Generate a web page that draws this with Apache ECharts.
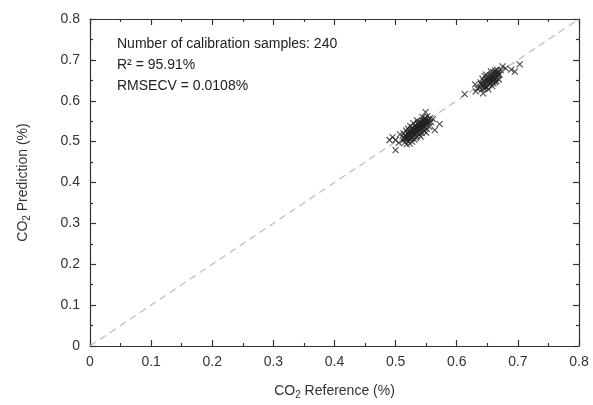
<!DOCTYPE html>
<html>
<head>
<meta charset="utf-8">
<script src="https://cdn.jsdelivr.net/npm/echarts@6/dist/echarts.min.js"></script>
<style>html,body{margin:0;padding:0;background:#fff}#c{width:593px;height:405px}</style>
</head>
<body>
<div id="c"></div>
<script>
// Reference (x) and predicted (y) CO2 values
const refValues = [
0.512,0.514,0.515,0.516,0.518,0.519,0.520,0.521,0.522,0.523,0.524,0.525,0.526,0.527,0.528,0.529,0.530,0.531,0.532,0.533,
0.534,0.535,0.536,0.537,0.538,0.539,0.540,0.541,0.542,0.543,0.544,0.545,0.546,0.547,0.548,0.549,0.550,0.551,0.552,0.553,
0.554,0.555,0.517,0.520,0.524,0.527,0.533,0.537,0.541,0.546,0.550,0.556,0.523,0.529,0.535,0.544,0.513,0.518,0.531,0.539,
0.547,0.526,0.534,0.542,0.519,0.528,0.536,0.545,0.553,0.522,
0.515,0.521,0.525,0.530,0.532,0.538,0.540,0.543,0.548,0.551,0.517,0.524,0.528,0.533,0.536,0.541,0.546,0.549,0.527,0.539,
0.490,0.500,0.495,0.500,0.507,0.505,0.549,0.561,0.572,0.564,0.558,
0.638,0.640,0.641,0.643,0.644,0.645,0.647,0.648,0.649,0.650,0.651,0.652,0.653,0.654,0.655,0.656,0.657,0.658,0.659,0.660,
0.661,0.662,0.663,0.664,0.665,0.666,0.667,0.668,0.669,0.670,0.646,0.652,0.658,0.663,0.642,0.656,0.660,0.648,0.665,0.639,
0.644,0.650,0.654,0.657,0.661,0.664,0.668,0.647,0.653,0.659,
0.613,0.631,0.643,0.630,0.634,0.675,0.680,0.689,0.695,0.703,0.672
];
const predValues = [
0.503,0.510,0.498,0.515,0.506,0.520,0.511,0.502,0.525,0.516,0.508,0.530,0.521,0.512,0.535,0.526,0.517,0.505,0.539,0.530,
0.522,0.513,0.543,0.534,0.526,0.517,0.548,0.538,0.530,0.521,0.552,0.543,0.535,0.526,0.558,0.548,0.540,0.531,0.562,0.553,
0.545,0.536,0.527,0.532,0.538,0.500,0.509,0.546,0.512,0.553,0.522,0.557,0.495,0.545,0.552,0.560,0.520,0.494,0.528,0.536,
0.544,0.518,0.527,0.544,0.509,0.521,0.531,0.538,0.549,0.514,
0.507,0.518,0.523,0.524,0.520,0.540,0.530,0.536,0.550,0.545,0.512,0.520,0.530,0.535,0.524,0.547,0.540,0.555,0.508,0.530,
0.504,0.504,0.511,0.479,0.518,0.497,0.572,0.555,0.543,0.528,0.548,
0.632,0.641,0.627,0.636,0.648,0.630,0.640,0.652,0.634,0.645,0.657,0.638,0.650,0.662,0.642,0.654,0.666,0.646,0.658,0.670,
0.650,0.662,0.674,0.655,0.666,0.676,0.660,0.670,0.652,0.664,0.660,0.628,0.636,0.645,0.654,0.672,0.642,0.664,0.648,0.645,
0.640,0.650,0.645,0.660,0.656,0.668,0.664,0.633,0.657,0.650,
0.616,0.623,0.618,0.640,0.630,0.684,0.679,0.676,0.671,0.689,0.675
];
const identityLine = [[0, 0], [0.8, 0.8]];
const annotations = ['Number of calibration samples: 240', 'R\u00B2 = 95.91%', 'RMSECV = 0.0108%'];
const xTitle = 'CO{sub|2} Reference (%)';
const yTitle = 'CO{sub|2} Prediction (%)';

const points = refValues.map((v, i) => [v, predValues[i]]);
const FONT = 'Liberation Sans';
const axisCommon = {
  type: 'value', min: 0, max: 0.8, interval: 0.1,
  axisLine: {show: true, onZero: false, lineStyle: {color: '#333', width: 1.2}},
  axisTick: {show: true, inside: true, length: 6, lineStyle: {color: '#333', width: 1.2}},
  minorTick: {show: true, splitNumber: 2, length: 3, lineStyle: {color: '#333', width: 1.2}},
  splitLine: {show: false},
};
const rich = {sub: {fontSize: 10, fontFamily: FONT, color: '#333', padding: [8, 0, 0, 0]}};
const chart = echarts.init(document.getElementById('c'), null, {renderer: 'canvas'});
chart.setOption({
  animation: false,
  backgroundColor: '#fff',
  textStyle: {fontFamily: FONT},
  grid: {left: 90, right: 14, top: 19, bottom: 57, containLabel: false},
  xAxis: [
    Object.assign({}, axisCommon, {
      position: 'bottom',
      axisLabel: {color: '#333', fontSize: 14, fontFamily: FONT, margin: 9, formatter: v => String(+v.toFixed(1))},
      name: xTitle, nameLocation: 'middle', nameGap: 36,
      nameTextStyle: {color: '#333', fontSize: 14, fontFamily: FONT, rich: rich}
    }),
    Object.assign({}, axisCommon, {position: 'top', axisLabel: {show: false}})
  ],
  yAxis: [
    Object.assign({}, axisCommon, {
      position: 'left',
      axisLabel: {color: '#333', fontSize: 14, fontFamily: FONT, margin: 10, formatter: v => String(+v.toFixed(1))},
      name: yTitle, nameLocation: 'middle', nameGap: 58, nameRotate: 90,
      nameTextStyle: {color: '#333', fontSize: 14, fontFamily: FONT, rich: rich}
    }),
    Object.assign({}, axisCommon, {position: 'right', axisLabel: {show: false}})
  ],
  graphic: annotations.map((t, i) => ({
    type: 'text', left: 117, top: 37 + i * 21,
    style: {text: t, fill: '#222', font: '14px "Liberation Sans"'}
  })),
  series: [
    {
      type: 'line', data: identityLine, showSymbol: false, symbol: 'none',
      lineStyle: {color: '#bbb', width: 1.2, type: [7, 5]}, z: 1, silent: true
    },
    {
      type: 'scatter', data: points, symbol: 'path://M0,0L10,10M10,0L0,10', symbolSize: 6,
      itemStyle: {color: 'none', borderColor: '#222', borderWidth: 1.1}, z: 3
    }
  ]
});
</script>
</body>
</html>
